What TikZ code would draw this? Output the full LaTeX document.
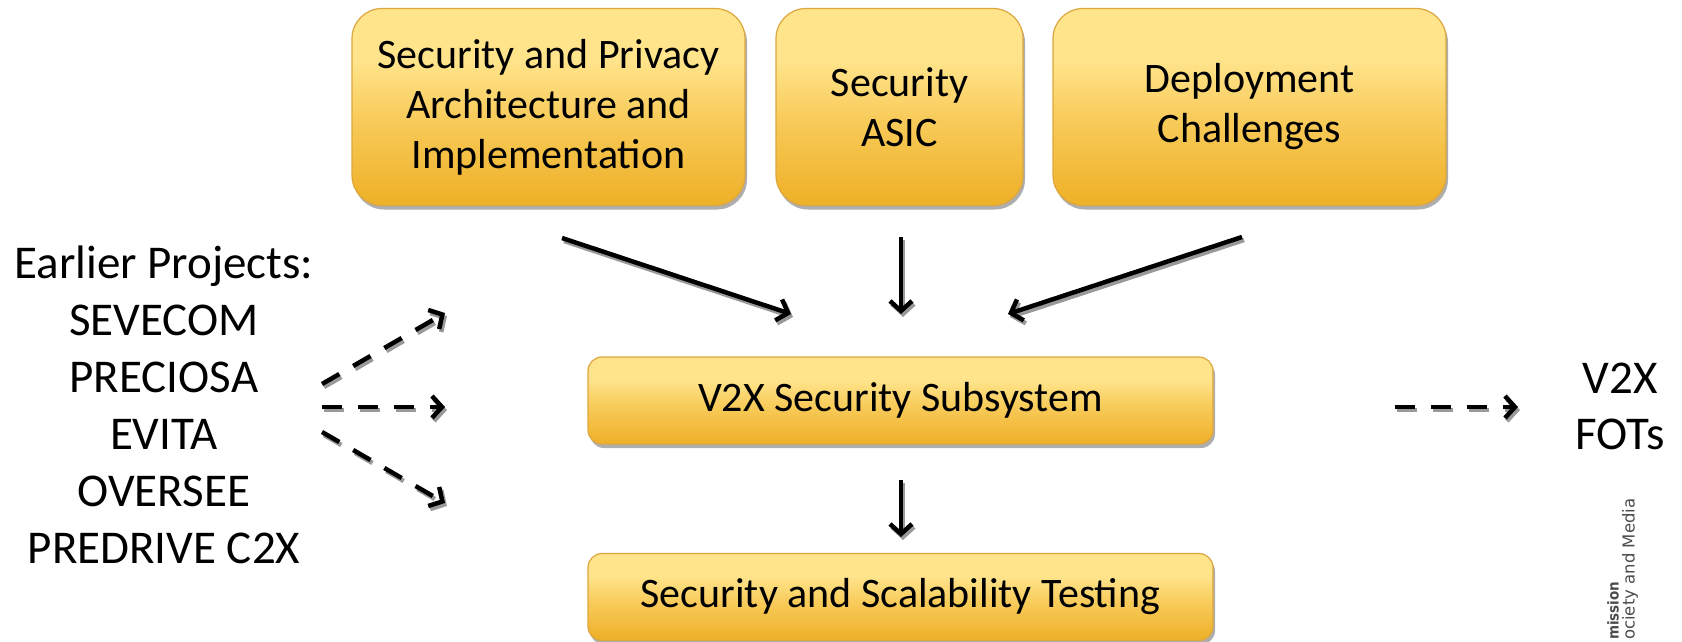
\documentclass[tikz,border=0pt]{standalone}
\usepackage{fontspec}
\setmainfont{Carlito}
\newfontfamily\smallsans{DejaVu Sans}
\newfontfamily\smallsanscond{DejaVu Sans Condensed}
\usetikzlibrary{arrows.meta,shadows}
\definecolor{boxtop}{HTML}{FFE48C}
\definecolor{boxmid}{HTML}{F8CB5A}
\definecolor{boxbot}{HTML}{EFB22B}
\definecolor{boxedge}{HTML}{DDA73E}
\pgfdeclareverticalshading{goldshade}{100bp}{color(0bp)=(boxbot); color(27bp)=(boxbot); color(47bp)=(boxmid); color(62bp)=(boxtop); color(100bp)=(boxtop)}
\begin{document}
\begin{tikzpicture}[x=1pt,y=-1pt,
  goldbox/.style={draw=boxedge, line width=1.2pt, rounded corners=#1, shading=goldshade,
    align=center, inner sep=0pt, font=\fontsize{42}{50}\selectfont,
    drop shadow={shadow xshift=2pt, shadow yshift=-4pt, fill=black!45, opacity=0.7}},
  goldbox/.default=30pt,
  plaintext/.style={align=center, inner sep=0pt, font=\fontsize{47}{57}\selectfont},
  tipstyle/.style={-{Straight Barb[length=10pt, width=22pt]}},
  arr/.style={tipstyle, line width=4.5pt, draw=black},
  arrshadow/.style={tipstyle, line width=4.5pt, draw=black!40, transform canvas={xshift=2pt, yshift=-3pt}},
  dasharr/.style={arr, dash pattern=on 20pt off 16pt},
  dashshadow/.style={arrshadow, dash pattern=on 20pt off 16pt},
  rottext/.style={rotate=90, anchor=west, inner sep=0pt, text=black!70}
]
\useasboundingbox (0,0) rectangle (1682,642);
\fill[white] (0,0) rectangle (1682,642);
\clip (0,0) rectangle (1682,642);

% top boxes
\node[goldbox, minimum width=393pt, minimum height=197pt] (spa) at (548.5,107) {Security and Privacy\\Architecture and\\Implementation};
\node[goldbox, minimum width=247pt, minimum height=197pt] (asic) at (899.5,107) {Security\\ASIC};
\node[goldbox, minimum width=393pt, minimum height=197pt] (dep) at (1249.5,107) {Deployment\\Challenges};

% middle and bottom boxes
\node[goldbox=14pt, minimum width=625pt, minimum height=87pt] (v2x) at (900.5,400.5) {V2X Security Subsystem};
\node[goldbox=14pt, minimum width=625pt, minimum height=87pt] (test) at (900.5,597) {Security and Scalability Testing};

% side texts
\node[plaintext] (earlier) at (164,405) {Earlier Projects:\\SEVECOM\\PRECIOSA\\EVITA\\OVERSEE\\PREDRIVE C2X};
\node[plaintext, font=\fontsize{47}{56}\selectfont] (fots) at (1620,406) {V2X\\FOTs};

% rotated partial texts
\node[rottext, font=\smallsanscond\bfseries\fontsize{15}{15}\selectfont] (ecm) at (1613,640) {mission};
\node[rottext, font=\smallsans\fontsize{16.5}{16.5}\selectfont] (eci) at (1630,640) {ociety and Media};

% arrow end coordinates
\coordinate (a1s) at (562,238);
\coordinate (a1e) at (791,314);
\coordinate (a2s) at (901,237);
\coordinate (a2e) at (901,314);
\coordinate (a3s) at (1242,237);
\coordinate (a3e) at (1008,314);
\coordinate (a4s) at (901,480);
\coordinate (a4e) at (901,537);
\coordinate (d1s) at (322,384);
\coordinate (d1e) at (445,313);
\coordinate (d2s) at (322,407);
\coordinate (d2e) at (445,407);
\coordinate (d3s) at (322,432);
\coordinate (d3e) at (445,503);
\coordinate (d4s) at (1395,407);
\coordinate (d4e) at (1518,407);

% solid arrows
\foreach \s/\e in {a1s/a1e, a2s/a2e, a3s/a3e, a4s/a4e}{
  \draw[arrshadow] (\s) -- (\e);
  \draw[arr] (\s) -- (\e);
}
% dashed arrows
\foreach \s/\e in {d1s/d1e, d2s/d2e, d3s/d3e, d4s/d4e}{
  \draw[dashshadow] (\s) -- (\e);
  \draw[dasharr] (\s) -- (\e);
}
\end{tikzpicture}
\end{document}
